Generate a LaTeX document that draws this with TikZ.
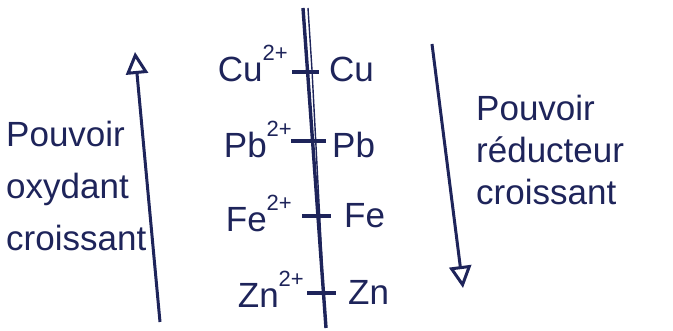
\documentclass[tikz,border=0pt]{standalone}
\usepackage{fontspec}
\setmainfont{Liberation Sans}
\usetikzlibrary{arrows.meta}
\definecolor{ink}{RGB}{30,36,90}
\newcommand{\chg}{\raisebox{0.62em}{\fontsize{22}{22}\selectfont 2+}}
\begin{document}
\begin{tikzpicture}[x=1pt,y=-1pt,
  lbl/.style={text=ink, font=\fontsize{35}{40}\selectfont, inner sep=0pt},
  sidetxt/.style={text=ink, align=left, inner sep=0pt},
  arr/.style={draw=ink, line width=3pt, -{Triangle[open, length=22pt, width=22pt, line width=3pt]}},
  axis/.style={draw=ink, line width=3.4pt},
  tick/.style={draw=ink, line width=3.6pt}]
\fill[white] (0,0) rectangle (673,331);
\useasboundingbox (0,0) rectangle (673,331);
% left arrow and text
\coordinate (la0) at (160,322);
\coordinate (la1) at (135,52);
\draw[arr] (la0) -- (la1);
\node[sidetxt, font=\fontsize{35}{52}\selectfont, anchor=west] (ox) at (6,186) {Pouvoir\\oxydant\\croissant};
% right arrow and text
\coordinate (ra0) at (432,44);
\coordinate (ra1) at (463,288);
\draw[arr] (ra0) -- (ra1);
\node[sidetxt, font=\fontsize{35}{42}\selectfont, anchor=west] (red) at (476,150) {Pouvoir\\réducteur\\croissant};
% central axis
\coordinate (top) at (303,8);
\coordinate (bot) at (326,328);
\draw[axis] (top) -- (bot);
\draw[draw=ink, line width=1.4pt] (308,8) -- (312,70) -- (322,260);
% ticks
\draw[tick] (292,72) -- (319,72);
\draw[tick] (291,141) -- (326,141);
\draw[tick] (302,216) -- (331,216);
\draw[tick] (307,293) -- (336,293);
% labels
\node[lbl, anchor=base east] (cu2) at (288,82) {Cu\chg};
\node[lbl, anchor=base west] (cu) at (329,82) {Cu};
\node[lbl, anchor=base east] (pb2) at (292,158) {Pb\chg};
\node[lbl, anchor=base west] (pb) at (332,158) {Pb};
\node[lbl, anchor=base east] (fe2) at (292,232) {Fe\chg};
\node[lbl, anchor=base west] (fe) at (344,228) {Fe};
\node[lbl, anchor=base east] (zn2) at (304,308) {Zn\chg};
\node[lbl, anchor=base west] (zn) at (348,305) {Zn};
\end{tikzpicture}
\end{document}
